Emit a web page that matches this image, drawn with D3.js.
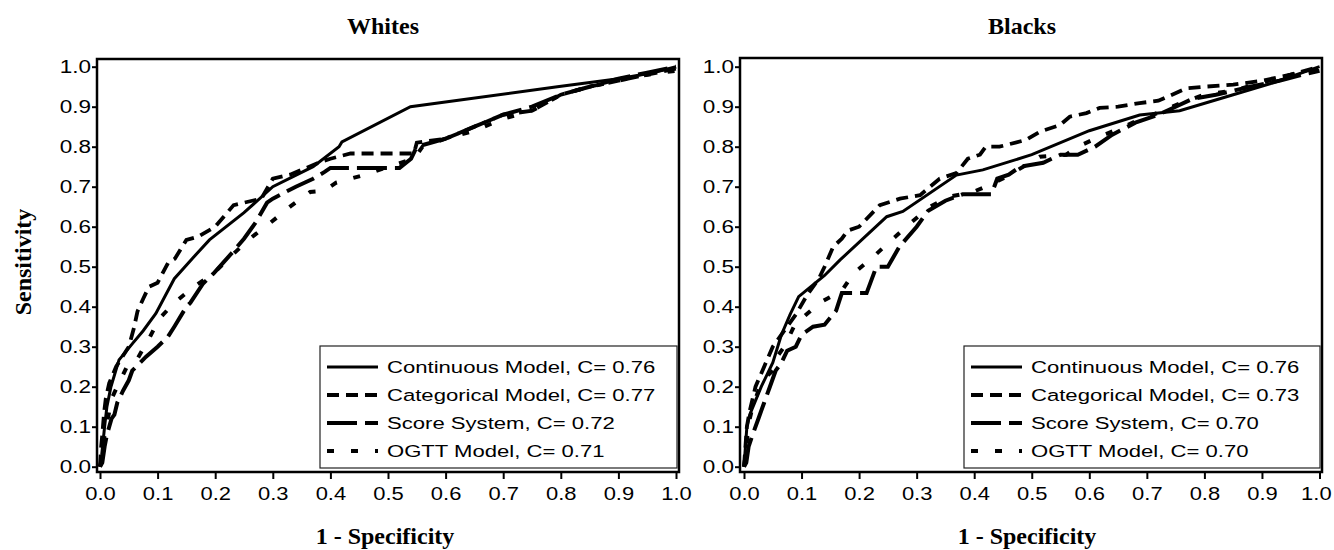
<!DOCTYPE html>
<html>
<head>
<meta charset="utf-8">
<script src="https://cdn.jsdelivr.net/npm/d3@7"></script>
<style>
  body { margin: 0; background: #fff; }
  svg { display: block; }
</style>
</head>
<body>
<div id="chart"></div>
<script>
// ---- data ----
const xTicks = [0, 0.1, 0.2, 0.3, 0.4, 0.5, 0.6, 0.7, 0.8, 0.9, 1.0];
const yTicks = [0, 0.1, 0.2, 0.3, 0.4, 0.5, 0.6, 0.7, 0.8, 0.9, 1.0];
const panelTitles = ['Whites', 'Blacks'];
const seriesNames = ['Continuous Model', 'Categorical Model', 'Score System', 'OGTT Model'];
const whitesC = ['0.76', '0.77', '0.72', '0.71'];
const blacksC = ['0.76', '0.73', '0.70', '0.70'];

const whitesContinuous = [[0,0],[0.003,0.03],[0.008,0.1],[0.012,0.15],[0.019,0.2],[0.033,0.267],[0.057,0.309],
  [0.075,0.34],[0.097,0.383],[0.129,0.47],[0.16,0.52],[0.19,0.567],[0.25,0.635],[0.3,0.7],[0.37,0.75],
  [0.415,0.8],[0.42,0.812],[0.539,0.9],[0.794,0.95],[0.9,0.97],[0.96,0.985],[1,1]];
const whitesCategorical = [[0,0],[0.002,0.05],[0.004,0.08],[0.007,0.134],[0.01,0.17],[0.016,0.209],[0.028,0.25],
  [0.05,0.3],[0.059,0.347],[0.065,0.388],[0.075,0.42],[0.085,0.45],[0.1,0.46],[0.118,0.509],[0.13,0.52],
  [0.15,0.567],[0.17,0.575],[0.2,0.6],[0.232,0.654],[0.25,0.66],[0.28,0.67],[0.3,0.72],[0.33,0.73],
  [0.383,0.762],[0.4,0.77],[0.435,0.783],[0.545,0.783],[0.55,0.81],[0.6,0.82],[0.65,0.85],[0.7,0.88],
  [0.75,0.89],[0.8,0.93],[0.85,0.95],[0.9,0.965],[0.95,0.98],[1,0.995]];
const whitesScore = [[0,0],[0.004,0.01],[0.008,0.05],[0.012,0.08],[0.016,0.1],[0.02,0.12],[0.025,0.13],
  [0.03,0.16],[0.04,0.19],[0.05,0.216],[0.056,0.24],[0.08,0.275],[0.1,0.3],[0.118,0.325],[0.129,0.35],
  [0.15,0.4],[0.157,0.41],[0.179,0.458],[0.197,0.483],[0.214,0.51],[0.23,0.536],[0.25,0.57],[0.27,0.61],
  [0.29,0.66],[0.3,0.67],[0.34,0.7],[0.37,0.72],[0.39,0.737],[0.4,0.747],[0.52,0.747],[0.54,0.77],
  [0.55,0.8],[0.6,0.82],[0.65,0.85],[0.7,0.88],[0.75,0.9],[0.8,0.93],[0.85,0.95],[0.9,0.97],
  [0.95,0.985],[1,1]];
const whitesOgtt = [[0,0],[0.003,0.02],[0.006,0.06],[0.01,0.1],[0.015,0.13],[0.02,0.17],[0.03,0.2],
  [0.04,0.23],[0.05,0.26],[0.065,0.27],[0.085,0.32],[0.103,0.37],[0.129,0.41],[0.167,0.454],[0.197,0.483],
  [0.23,0.53],[0.26,0.57],[0.296,0.61],[0.33,0.65],[0.365,0.687],[0.39,0.69],[0.41,0.71],[0.46,0.73],
  [0.5,0.75],[0.545,0.77],[0.56,0.8],[0.6,0.82],[0.65,0.84],[0.7,0.87],[0.75,0.89],[0.8,0.93],
  [0.85,0.95],[0.9,0.965],[0.95,0.98],[1,0.99]];

const blacksContinuous = [[0,0],[0.005,0.1],[0.01,0.13],[0.03,0.2],[0.05,0.26],[0.065,0.33],[0.08,0.38],
  [0.095,0.425],[0.14,0.478],[0.167,0.517],[0.248,0.625],[0.276,0.638],[0.369,0.729],[0.415,0.742],
  [0.5,0.78],[0.6,0.84],[0.6875,0.879],[0.757,0.89],[0.85,0.93],[0.92,0.96],[1,1]];
const blacksCategorical = [[0,0],[0.005,0.1],[0.01,0.14],[0.02,0.2],[0.035,0.25],[0.05,0.3],[0.07,0.34],
  [0.09,0.38],[0.11,0.43],[0.13,0.47],[0.14,0.5],[0.155,0.55],[0.17,0.57],[0.18,0.59],[0.2,0.6],
  [0.236,0.654],[0.271,0.67],[0.306,0.679],[0.34,0.72],[0.369,0.734],[0.389,0.77],[0.41,0.78],
  [0.42,0.8],[0.444,0.8],[0.49,0.817],[0.514,0.8375],[0.549,0.854],[0.566,0.875],[0.595,0.884],
  [0.618,0.897],[0.65,0.9],[0.6875,0.909],[0.72,0.915],[0.769,0.946],[0.8,0.95],[0.85,0.955],
  [0.9,0.965],[0.95,0.98],[1,1]];
const blacksScore = [[0,0],[0.004,0.01],[0.008,0.05],[0.015,0.08],[0.025,0.12],[0.035,0.16],[0.045,0.2],
  [0.055,0.24],[0.065,0.26],[0.075,0.29],[0.09,0.3],[0.1,0.33],[0.12,0.35],[0.14,0.355],[0.16,0.39],
  [0.17,0.434],[0.213,0.434],[0.23,0.5],[0.25,0.5],[0.27,0.55],[0.3,0.6],[0.32,0.64],[0.35,0.665],
  [0.38,0.681],[0.43,0.681],[0.44,0.72],[0.46,0.73],[0.48,0.75],[0.52,0.76],[0.55,0.78],[0.58,0.78],
  [0.61,0.8],[0.64,0.83],[0.68,0.86],[0.72,0.88],[0.75,0.9],[0.78,0.92],[0.82,0.93],[0.88,0.95],
  [0.93,0.965],[0.97,0.98],[1,0.99]];
const blacksOgtt = [[0,0],[0.003,0.03],[0.006,0.08],[0.01,0.12],[0.015,0.15],[0.025,0.19],[0.035,0.22],
  [0.05,0.24],[0.06,0.28],[0.07,0.3],[0.08,0.33],[0.09,0.36],[0.1,0.37],[0.132,0.41],[0.17,0.44],
  [0.19,0.483],[0.224,0.524],[0.259,0.57],[0.29,0.61],[0.323,0.65],[0.357,0.675],[0.398,0.687],
  [0.42,0.7],[0.456,0.725],[0.49,0.754],[0.514,0.775],[0.56,0.78],[0.58,0.8],[0.618,0.825],
  [0.66,0.85],[0.69,0.87],[0.72,0.885],[0.76,0.91],[0.8,0.93],[0.85,0.94],[0.9,0.96],[0.95,0.98],[1,0.995]];

// ---- layout ----
const width = 1334;
const height = 550;

const svg = d3.select('#chart')
  .append('svg')
  .attr('width', width)
  .attr('height', height);

// line styles per series: solid, dashes, long dashes, dots
const dashes = [null, '12,7', '30,8', '7,17'];
const strokeWidths = [3, 3.8, 4, 4];
const sansFont = '"Liberation Sans", Arial, sans-serif';
const serifFont = '"Liberation Serif", "Times New Roman", serif';

const panels = [
  {
    title: panelTitles[0], titleX: 383, xTitleX: 385,
    xRange: [100, 676], frame: { l: 97, r: 679, t: 59, b: 472 },
    legendX: 320, legendR: 677,
    series: [whitesContinuous, whitesCategorical, whitesScore, whitesOgtt], cvals: whitesC,
  },
  {
    title: panelTitles[1], titleX: 1022, xTitleX: 1027,
    xRange: [744, 1319.5], frame: { l: 740, r: 1322, t: 58, b: 472 },
    legendX: 964, legendR: 1320,
    series: [blacksContinuous, blacksCategorical, blacksScore, blacksOgtt], cvals: blacksC,
  },
];

panels.forEach(drawPanel);

// y axis title (only on the left)
svg.append('text')
  .attr('transform', 'translate(31, 262) rotate(-90)')
  .attr('text-anchor', 'middle')
  .style('font-family', serifFont)
  .style('font-weight', 'bold')
  .style('font-size', '24px')
  .text('Sensitivity');

function drawPanel(p, idx) {
  const g = svg.append('g');
  const f = p.frame;

  const x = d3.scaleLinear().domain([0, 1]).range(p.xRange);
  const y = d3.scaleLinear().domain([0, 1]).range([466.7, 66.7]);

  // title
  g.append('text')
    .attr('x', p.titleX)
    .attr('y', 34)
    .attr('text-anchor', 'middle')
    .style('font-family', serifFont)
    .style('font-weight', 'bold')
    .style('font-size', '24px')
    .text(p.title);

  // x axis title
  g.append('text')
    .attr('x', p.xTitleX)
    .attr('y', 544)
    .attr('text-anchor', 'middle')
    .style('font-family', serifFont)
    .style('font-weight', 'bold')
    .style('font-size', '24px')
    .text('1 - Specificity');

  // axes
  const xAxis = d3.axisBottom(x).tickValues(xTicks).tickSize(7).tickPadding(8).tickFormat(d3.format('.1f'));
  const yAxis = d3.axisLeft(y).tickValues(yTicks).tickSize(5).tickPadding(1).tickFormat(d3.format('.1f'));

  const gx = g.append('g').attr('transform', `translate(0, ${f.b})`).call(xAxis);
  const gy = g.append('g').attr('transform', `translate(${f.l}, 0)`).call(yAxis);

  [gx, gy].forEach((ax) => {
    ax.select('.domain').remove();
    ax.selectAll('line').attr('stroke', '#000').attr('stroke-width', 2);
    ax.selectAll('text')
      .attr('fill', '#000')
      .style('font-family', sansFont)
      .style('font-size', '18px');
  });
  gx.selectAll('text').attr('transform', 'scale(1.22,1)');
  gy.selectAll('text').attr('x', -6 / 1.25).attr('transform', 'scale(1.25,1)');
  // keep the last label of the right panel inside the page
  if (idx === 1) {
    gx.selectAll('text').filter((d) => d === 1).attr('dx', -3);
  }

  // curves
  const line = d3.line().x((d) => x(d[0])).y((d) => y(d[1]));
  const order = [3, 2, 1, 0];
  order.forEach((i) => {
    g.append('path')
      .datum(p.series[i])
      .attr('d', line)
      .attr('fill', 'none')
      .attr('stroke', '#000')
      .attr('stroke-width', strokeWidths[i])
      .attr('stroke-dasharray', dashes[i]);
  });

  // frame
  g.append('rect')
    .attr('x', f.l)
    .attr('y', f.t)
    .attr('width', f.r - f.l)
    .attr('height', f.b - f.t)
    .attr('fill', 'none')
    .attr('stroke', '#000')
    .attr('stroke-width', 2.5);

  // legend
  const lg = g.append('g');
  lg.append('rect')
    .attr('x', p.legendX)
    .attr('y', 346)
    .attr('width', p.legendR - p.legendX)
    .attr('height', 122)
    .attr('fill', '#fff')
    .attr('stroke', '#222')
    .attr('stroke-width', 1.2);

  seriesNames.forEach((name, i) => {
    const cy = 367 + i * 28;
    lg.append('line')
      .attr('x1', p.legendX + 7)
      .attr('x2', p.legendX + 58)
      .attr('y1', cy)
      .attr('y2', cy)
      .attr('stroke', '#000')
      .attr('stroke-width', strokeWidths[i])
      .attr('stroke-dasharray', dashes[i]);
    lg.append('text')
      .attr('transform', `translate(${p.legendX + 67}, ${cy + 6}) scale(1.3,1)`)
      .style('font-family', sansFont)
      .style('font-size', '17px')
      .text(`${name}, C= ${p.cvals[i]}`);
  });
}
</script>
</body>
</html>
